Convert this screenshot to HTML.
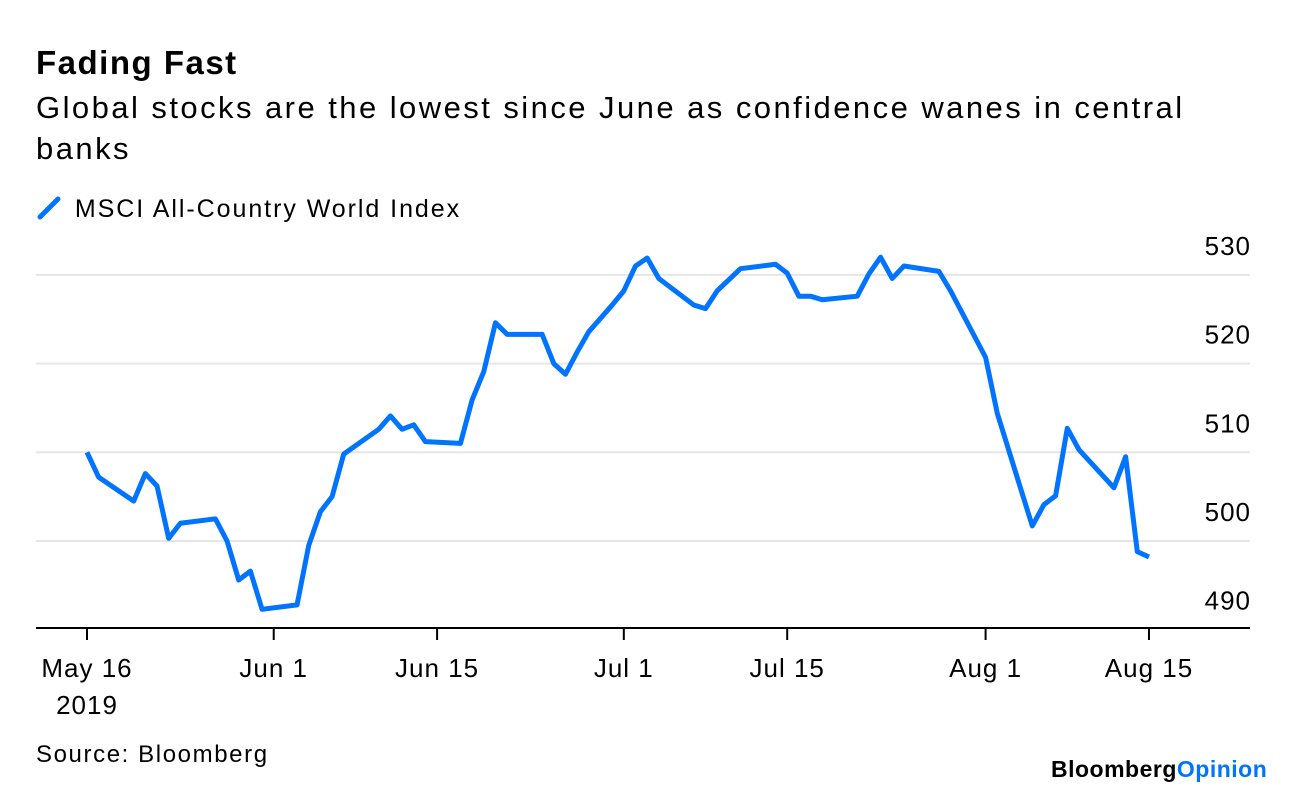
<!DOCTYPE html>
<html><head><meta charset="utf-8"><style>
body{margin:0;width:1296px;height:786px;background:#fff;font-family:"Liberation Sans",sans-serif;color:#000;overflow:hidden;position:relative}
.t{position:absolute;white-space:nowrap}
</style></head><body>
<div class="t" style="left:36px;top:44px;font-size:33px;font-weight:bold;letter-spacing:1.5px">Fading Fast</div>
<div class="t" style="left:36px;top:87px;font-size:31px;line-height:41px;letter-spacing:2.45px;white-space:normal;width:1250px">Global stocks are the lowest since June as confidence wanes in central<br>banks</div>
<div class="t" style="left:36px;top:195px;font-size:25px;letter-spacing:1.95px"><svg width="30" height="26" style="vertical-align:-4px"><line x1="4" y1="22" x2="22" y2="4" stroke="#0073ff" stroke-width="5" stroke-linecap="round"/></svg> MSCI All-Country World Index</div>
<svg id="c" width="1296" height="786" style="position:absolute;left:0;top:0"></svg>
<div class="t" style="left:36px;top:741px;font-size:24px;letter-spacing:1.6px">Source: Bloomberg</div>
<div class="t" style="left:1051px;top:756px;font-size:23px;font-weight:bold;letter-spacing:0.5px">Bloomberg<span style="color:#0073ff">Opinion</span></div>
<script>
const days=[0,1,4,5,6,7,8,11,12,13,14,15,18,19,20,21,22,25,26,27,28,29,32,33,34,35,36,39,40,41,42,43,45,46,47,48,49,52,53,54,56,59,60,61,62,63,66,67,68,69,70,73,74,77,78,81,82,83,84,85,88,89,90,91];
const values=[510.0,507.2,504.5,507.6,506.2,500.3,502.0,502.5,500.0,495.6,496.6,492.3,492.8,499.5,503.3,505.0,509.8,512.6,514.1,512.6,513.1,511.2,511.0,515.9,519.1,524.6,523.3,523.3,520.0,518.8,521.3,523.6,526.6,528.2,531.0,531.9,529.6,526.6,526.2,528.2,530.7,531.2,530.2,527.6,527.6,527.2,527.6,530.1,532.0,529.6,531.0,530.4,528.2,520.7,514.4,501.7,504.1,505.1,512.7,510.3,506.0,509.5,498.8,498.2];
const yTicks=[490,500,510,520,530];
const xTickDays=[0,16,30,46,60,77,91];
const xTickLabels=["May 16","Jun 1","Jun 15","Jul 1","Jul 15","Aug 1","Aug 15"];
const NS="http://www.w3.org/2000/svg";
const svg=document.getElementById('c');
const x=d=>87+d*11.67;
const y=v=>541-(v-500)*8.87;
function mk(t,a){const e=document.createElementNS(NS,t);for(const k in a)e.setAttribute(k,a[k]);svg.appendChild(e);return e;}
yTicks.forEach(v=>{
  if(v>490){const g=mk('line',{x1:36,x2:1250,y1:y(v),y2:y(v),stroke:'#e6e6e6','stroke-width':2});
  
  }
  const t=mk('text',{x:1251,y:y(v)-20,'text-anchor':'end','font-size':26,'letter-spacing':1,'font-family':'Liberation Sans, sans-serif'});
  t.textContent=v;
  
  
});
const ax=mk('line',{x1:36,x2:1250,y1:628,y2:628,stroke:'#000','stroke-width':2});


xTickDays.forEach((d,i)=>{
  const tk=mk('line',{x1:x(d),x2:x(d),y1:628,y2:640,stroke:'#000','stroke-width':2});
  
  
  const t=mk('text',{x:x(d),y:677,'text-anchor':'middle','font-size':26,'letter-spacing':1,'font-family':'Liberation Sans, sans-serif'});
  t.textContent=xTickLabels[i];
  
  
});
const yr=mk('text',{x:x(0),y:714,'text-anchor':'middle','font-size':26,'letter-spacing':1,'font-family':'Liberation Sans, sans-serif'});
yr.textContent='2019';


const p=mk('polyline',{points:days.map((d,i)=>x(d)+','+y(values[i])).join(' '),fill:'none',stroke:'#0073ff','stroke-width':5,'stroke-linejoin':'round'});


</script>
</body></html>
